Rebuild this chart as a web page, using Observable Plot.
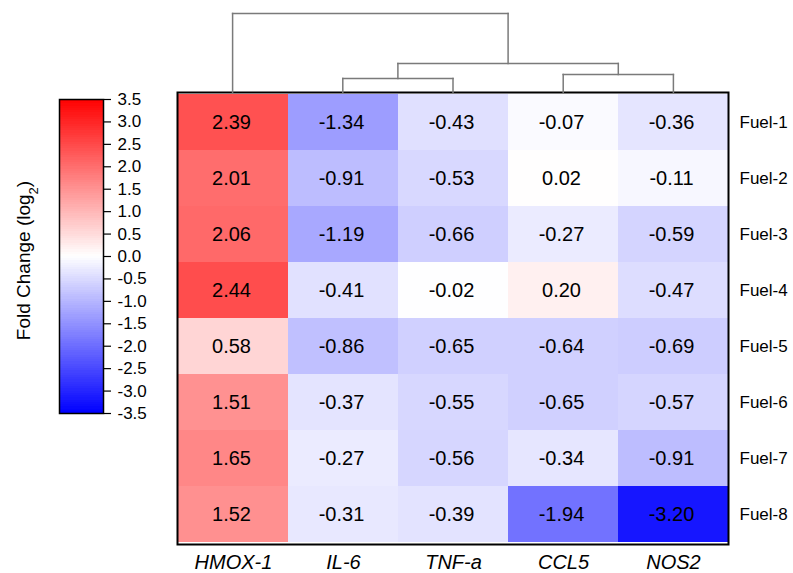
<!DOCTYPE html>
<html>
<head>
<meta charset="utf-8">
<script src="https://cdn.jsdelivr.net/npm/d3@7"></script>
<script src="https://cdn.jsdelivr.net/npm/@observablehq/plot@0.6"></script>
<style>
  html, body { margin: 0; padding: 0; background: #fff; }
  #chart { position: relative; width: 793px; height: 573px; background: #fff;
           font-family: "Liberation Sans", Arial, Helvetica, sans-serif; color: #000; }
  #chart svg { position: absolute; top: 0; left: 0; overflow: visible; }
</style>
</head>
<body>
<div id="chart"></div>
<script>
// Genes (columns) in dendrogram order and fuel samples (rows)
const genes = ["HMOX-1", "IL-6", "TNF-a", "CCL5", "NOS2"];
const fuels = ["Fuel-1", "Fuel-2", "Fuel-3", "Fuel-4", "Fuel-5", "Fuel-6", "Fuel-7", "Fuel-8"];

// log2 fold change per gene, Fuel-1 .. Fuel-8
const hmox1 = [2.39, 2.01, 2.06, 2.44, 0.58, 1.51, 1.65, 1.52];
const il6   = [-1.34, -0.91, -1.19, -0.41, -0.86, -0.37, -0.27, -0.31];
const tnfa  = [-0.43, -0.53, -0.66, -0.02, -0.65, -0.55, -0.56, -0.39];
const ccl5  = [-0.07, 0.02, -0.27, 0.20, -0.64, -0.65, -0.34, -1.94];
const nos2  = [-0.36, -0.11, -0.59, -0.47, -0.69, -0.57, -0.91, -3.20];

// Colour bar ticks
const legendTicks = [-3.5, -3.0, -2.5, -2.0, -1.5, -1.0, -0.5, 0.0, 0.5, 1.0, 1.5, 2.0, 2.5, 3.0, 3.5];

// Gene clustering: merge heights (linkage distance)
const merges = [
  {id: "m1", left: "IL-6", right: "TNF-a", height: 14},
  {id: "m2", left: "CCL5", right: "NOS2", height: 18},
  {id: "m3", left: "m1", right: "m2", height: 29},
  {id: "m4", left: "HMOX-1", right: "m3", height: 79}
];

const series = {"HMOX-1": hmox1, "IL-6": il6, "TNF-a": tnfa, "CCL5": ccl5, "NOS2": nos2};
const cells = [];
genes.forEach(g => fuels.forEach((f, i) => cells.push({gene: g, fuel: f, value: series[g][i]})));

const color = {
  type: "linear",
  domain: [-3.5, 0, 3.5],
  range: ["#0000ff", "#ffffff", "#ff0000"],
  interpolate: "rgb"
};

const W = 793, H = 573;
const frameLeft = 177, frameRight = 728, frameTop = 92, frameBottom = 544;
const font = "'Liberation Sans', Arial, Helvetica, sans-serif";
const chart = document.getElementById("chart");

// Heatmap
const heat = Plot.plot({
  width: W, height: H,
  marginLeft: frameLeft, marginRight: W - frameRight,
  marginTop: frameTop, marginBottom: H - frameBottom,
  style: {background: "transparent", fontFamily: font, color: "#000"},
  x: {domain: genes, padding: 0},
  y: {domain: fuels, padding: 0},
  color,
  marks: [
    Plot.cell(cells, {x: "gene", y: "fuel", fill: "value", inset: 0, shapeRendering: "crispEdges"}),
    Plot.text(cells, {x: "gene", y: "fuel", text: d => d.value.toFixed(2), fill: "#000", fontSize: 20, dx: -2}),
    Plot.axisX({anchor: "bottom", tickSize: 0, tickPadding: 10, fontSize: 20, fontStyle: "italic", label: null}),
    Plot.axisY({anchor: "right", tickSize: 0, tickPadding: 11, fontSize: 17, label: null}),
    Plot.frame({stroke: "#000", strokeWidth: 2})
  ]
});
d3.select(heat).selectAll("[aria-label='x-axis tick label'] text").style("font-style", "italic");
chart.appendChild(heat);

// Dendrogram above the columns
const nodes = new Map(genes.map((g, i) => [g, {x: i, h: 0}]));
const segments = [];
for (const m of merges) {
  const a = nodes.get(m.left), b = nodes.get(m.right);
  segments.push({x1: a.x, y1: a.h, x2: a.x, y2: m.height});
  segments.push({x1: a.x, y1: m.height, x2: b.x, y2: m.height});
  segments.push({x1: b.x, y1: m.height, x2: b.x, y2: b.h});
  nodes.set(m.id, {x: (a.x + b.x) / 2, h: m.height});
}
const dendro = Plot.plot({
  width: W, height: frameTop,
  marginLeft: frameLeft, marginRight: W - frameRight,
  marginTop: 13, marginBottom: 0,
  style: {background: "transparent"},
  x: {domain: [-0.5, genes.length - 0.5], axis: null},
  y: {domain: [0, 79], axis: null},
  marks: [
    Plot.link(segments, {x1: "x1", y1: "y1", x2: "x2", y2: "y2", stroke: "#7a7a7a", strokeWidth: 1.5, strokeLinecap: "square"})
  ]
});
chart.appendChild(dendro);

// Vertical colour bar
const strips = d3.range(-350, 350, 5).map(v => ({lo: v / 100, hi: (v + 5) / 100}));
const bar = Plot.plot({
  width: 180, height: H,
  marginLeft: 59, marginRight: 180 - 103,
  marginTop: 99, marginBottom: H - 413,
  style: {background: "transparent", fontFamily: font, color: "#000"},
  x: {domain: [0, 1], axis: null},
  y: {domain: [-3.5, 3.5]},
  color,
  marks: [
    Plot.rect(strips, {x1: 0, x2: 1, y1: "lo", y2: "hi", fill: d => (d.lo + d.hi) / 2, shapeRendering: "crispEdges"}),
    Plot.frame({stroke: "#000", strokeWidth: 1.5}),
    Plot.axisY({anchor: "right", ticks: legendTicks, tickFormat: d => d.toFixed(1), tickSize: 7, tickPadding: 7, fontSize: 17, label: null, strokeWidth: 1.2}),
    Plot.text(["Fold Change (log2)"], {frameAnchor: "left", textAnchor: "middle", rotate: -90, dx: -36, dy: 4, fontSize: 19, fill: "#000"})
  ]
});
d3.select(bar).selectAll("text").filter(function() { return this.textContent === "Fold Change (log2)"; })
  .each(function() {
    const t = d3.select(this).attr("font-size", 19).style("font-size", "19px");
    t.text("Fold Change (log");
    t.append("tspan").attr("baseline-shift", "sub").style("font-size", "13px").text("2");
    t.append("tspan").style("font-size", "19px").text(")");
  });
chart.appendChild(bar);
</script>
</body>
</html>
